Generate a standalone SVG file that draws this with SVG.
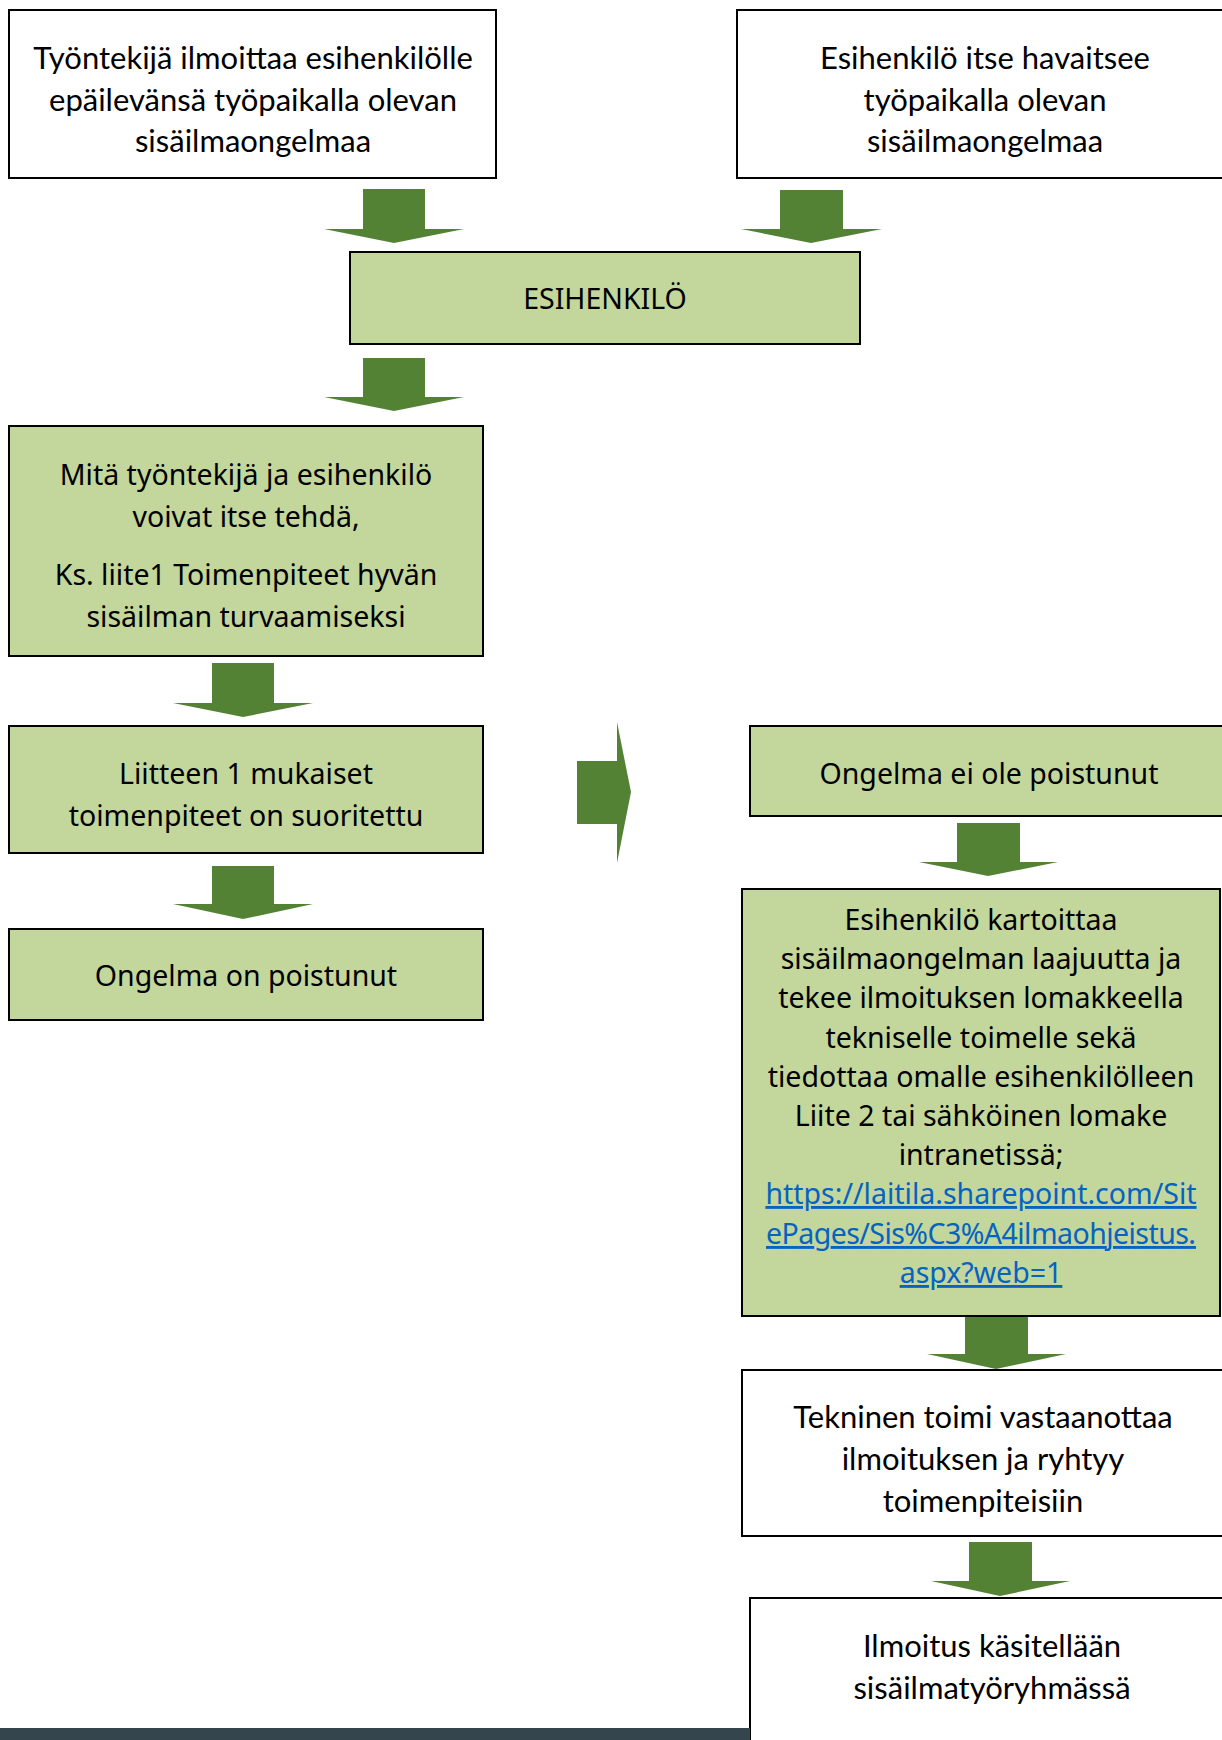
<svg xmlns="http://www.w3.org/2000/svg" width="1222" height="1740" viewBox="0 0 1222 1740">
<style>
.wbox{fill:#ffffff;stroke:#000000;stroke-width:2}
.gbox{fill:#c3d69b;stroke:#000000;stroke-width:2}
.arr{fill:#548235}
.tw{font-family:Lato,"Liberation Sans",sans-serif;font-size:31px;fill:#000000;text-anchor:middle}
.tg{font-family:"Noto Sans","Open Sans",sans-serif;font-size:28.5px;fill:#000000;text-anchor:middle}
.link{fill:#0563c1;text-decoration:underline}
</style>
<rect x="0" y="0" width="1222" height="1740" fill="#ffffff"/>
<g id="connectors">
<polygon class="arr" points="363,189 425,189 425,229 464,229 394,243 324,229 363,229"/>
<polygon class="arr" points="780,190 843,190 843,229 882,229 811,243 741,229 780,229"/>
<polygon class="arr" points="363,358 425,358 425,397 464,397 394,411 324,397 363,397"/>
<polygon class="arr" points="212,663 274,663 274,703 313,703 243,717 173,703 212,703"/>
<polygon class="arr" points="212,866 274,866 274,904 313,904 243,919 173,904 212,904"/>
<polygon class="arr" points="577,761 617,761 617,722 631,792 617,863 617,824 577,824"/>
<polygon class="arr" points="957,823 1020,823 1020,862 1058,862 988,876 919,862 957,862"/>
<polygon class="arr" points="965,1316 1028,1316 1028,1354 1066,1354 996,1369 927,1354 965,1354"/>
<polygon class="arr" points="969,1542 1032,1542 1032,1581 1070,1581 1000,1596 931,1581 969,1581"/>
</g>
<g id="n1">
<rect class="wbox" x="9" y="10" width="487" height="168"/>
<text class="tw" x="253" y="69">Työntekijä ilmoittaa esihenkilölle</text>
<text class="tw" x="253" y="111">epäilevänsä työpaikalla olevan</text>
<text class="tw" x="253" y="152">sisäilmaongelmaa</text>
</g>
<g id="n2">
<rect class="wbox" x="737" y="10" width="500" height="168"/>
<text class="tw" x="985" y="69">Esihenkilö itse havaitsee</text>
<text class="tw" x="985" y="111">työpaikalla olevan</text>
<text class="tw" x="985" y="152">sisäilmaongelmaa</text>
</g>
<g id="n3">
<rect class="gbox" x="350" y="252" width="510" height="92"/>
<text class="tg" x="605" y="309">ESIHENKILÖ</text>
</g>
<g id="n4">
<rect class="gbox" x="9" y="426" width="474" height="230"/>
<text class="tg" x="246" y="485">Mitä työntekijä ja esihenkilö</text>
<text class="tg" x="246" y="527">voivat itse tehdä,</text>
<text class="tg" x="246" y="585">Ks. liite1 Toimenpiteet hyvän</text>
<text class="tg" x="246" y="627">sisäilman turvaamiseksi</text>
</g>
<g id="n5">
<rect class="gbox" x="9" y="726" width="474" height="127"/>
<text class="tg" x="246" y="784">Liitteen 1 mukaiset</text>
<text class="tg" x="246" y="826">toimenpiteet on suoritettu</text>
</g>
<g id="n6">
<rect class="gbox" x="9" y="929" width="474" height="91"/>
<text class="tg" x="246" y="986">Ongelma on poistunut</text>
</g>
<g id="n7">
<rect class="gbox" x="750" y="726" width="490" height="90"/>
<text class="tg" x="989" y="784">Ongelma ei ole poistunut</text>
</g>
<g id="n8">
<rect class="gbox" x="742" y="889" width="478" height="427"/>
<text class="tg" x="981" y="930">Esihenkilö kartoittaa</text>
<text class="tg" x="981" y="969">sisäilmaongelman laajuutta ja</text>
<text class="tg" x="981" y="1008">tekee ilmoituksen lomakkeella</text>
<text class="tg" x="981" y="1048">tekniselle toimelle sekä</text>
<text class="tg" x="981" y="1087">tiedottaa omalle esihenkilölleen</text>
<text class="tg" x="981" y="1126">Liite 2 tai sähköinen lomake</text>
<text class="tg" x="981" y="1165">intranetissä;</text>
<text class="tg link" x="981" y="1204">https://laitila.sharepoint.com/Sit</text>
<text class="tg link" x="981" y="1244" textLength="430">ePages/Sis%C3%A4ilmaohjeistus.</text>
<text class="tg link" x="981" y="1283">aspx?web=1</text>
</g>
<g id="n9">
<rect class="wbox" x="742" y="1370" width="495" height="166"/>
<text class="tw" x="983" y="1428">Tekninen toimi vastaanottaa</text>
<text class="tw" x="983" y="1470">ilmoituksen ja ryhtyy</text>
<text class="tw" x="983" y="1512">toimenpiteisiin</text>
</g>
<g id="n10">
<rect class="wbox" x="750" y="1598" width="490" height="160"/>
<text class="tw" x="992" y="1657">Ilmoitus käsitellään</text>
<text class="tw" x="992" y="1699">sisäilmatyöryhmässä</text>
</g>
<rect x="0" y="1728" width="750" height="12" fill="#34454d"/>
</svg>
